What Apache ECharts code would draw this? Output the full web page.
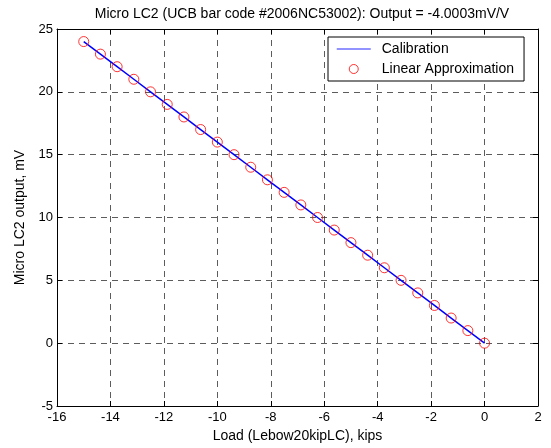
<!DOCTYPE html>
<html lang="en">
<head>
    <meta charset="UTF-8">
    <title>Micro LC2</title>
    <style>
        body { margin: 0; background: #fff; }
        .chart { width: 551px; height: 448px; }
    </style>
</head>
<body>
    <div class="chart"></div>
    <script src="https://cdn.jsdelivr.net/npm/echarts@6/dist/echarts.min.js"></script>
    <script>
        // load (kips) and micro LC2 output (mV)
        var loadKips = [0, -0.625, -1.25, -1.875, -2.5, -3.125, -3.75, -4.375, -5, -5.625, -6.25, -6.875,
            -7.5, -8.125, -8.75, -9.375, -10, -10.625, -11.25, -11.875, -12.5, -13.125, -13.75, -14.375, -15]
        var outputMv = [0, 1, 2, 3, 4, 5, 6, 7, 8, 9, 10, 11, 12, 13, 14, 15, 16, 17, 18, 19, 20, 21, 22, 23, 24]

        var xMin = -16, xMax = 2, xStep = 2
        var yMin = -5, yMax = 25, yStep = 5

        var pts = loadKips.map(function (x, i) { return [x, outputMv[i]] })
        var font = 'Liberation Sans, Arial, sans-serif'

        var chart = echarts.init(document.getElementsByClassName('chart')[0])
        var gridDash = { color: '#333', type: [6, 5], width: 1, opacity: 0.8 }

        var option = {
            animation: false,
            title: {
                text: 'Micro LC2 (UCB bar code #2006NC53002): Output = -4.0003mV/V',
                left: 297, top: 2, textAlign: 'center',
                textStyle: { fontFamily: font, fontSize: 14, fontWeight: 'normal', color: '#000' }
            },
            grid: { left: 57, right: 13, top: 29, bottom: 42, containLabel: false },
            legend: {
                orient: 'vertical',
                left: 328, top: 37, width: 199, height: 45,
                padding: [5, 10, 5, 8],
                itemGap: 6,
                itemWidth: 34, itemHeight: 9,
                backgroundColor: '#fff',
                borderColor: '#000', borderWidth: 1, borderRadius: 0,
                textStyle: { fontFamily: font, fontSize: 14, color: '#000', padding: [0, 0, 0, 6] },
                data: [
                    { name: 'Calibration', itemStyle: { opacity: 0 }, lineStyle: { color: '#6f6fff', width: 1.5 } },
                    { name: 'Linear Approximation', itemStyle: { color: 'rgba(255,255,255,0)', borderColor: '#ff0000', borderWidth: 1 } }
                ]
            },
            xAxis: [{
                type: 'value', min: xMin, max: xMax, interval: xStep,
                position: 'bottom',
                name: 'Load (Lebow20kipLC), kips', nameLocation: 'middle', nameGap: 23,
                nameTextStyle: { fontFamily: font, fontSize: 14, color: '#000' },
                axisLine: { onZero: false, lineStyle: { color: '#000', width: 1 } },
                axisTick: { inside: true, length: 5, lineStyle: { color: '#000' } },
                axisLabel: { fontFamily: font, fontSize: 13, color: '#000', margin: 5 },
                splitLine: { show: true, lineStyle: gridDash }
            }, {
                type: 'value', min: xMin, max: xMax, interval: xStep,
                position: 'top',
                axisLine: { onZero: false, lineStyle: { color: '#000', width: 1 } },
                axisTick: { inside: true, length: 5, lineStyle: { color: '#000' } },
                axisLabel: { show: false },
                splitLine: { show: false }
            }],
            yAxis: [{
                type: 'value', min: yMin, max: yMax, interval: yStep,
                position: 'left',
                name: 'Micro LC2 output, mV', nameLocation: 'middle', nameGap: 30, nameRotate: 90,
                nameTextStyle: { fontFamily: font, fontSize: 14, color: '#000' },
                axisLine: { onZero: false, lineStyle: { color: '#000', width: 1 } },
                axisTick: { inside: true, length: 5, lineStyle: { color: '#000' } },
                axisLabel: { fontFamily: font, fontSize: 13, color: '#000', margin: 4 },
                splitLine: { show: true, lineStyle: gridDash }
            }, {
                type: 'value', min: yMin, max: yMax, interval: yStep,
                position: 'right',
                axisLine: { onZero: false, lineStyle: { color: '#000', width: 1 } },
                axisTick: { inside: true, length: 5, lineStyle: { color: '#000' } },
                axisLabel: { show: false },
                splitLine: { show: false }
            }],
            series: [
                {
                    name: 'Calibration',
                    type: 'line',
                    data: pts,
                    showSymbol: false,
                    symbol: 'none',
                    lineStyle: { color: '#0000ff', width: 1.5 },
                    itemStyle: { color: '#0000ff' },
                    z: 3
                },
                {
                    name: 'Linear Approximation',
                    type: 'scatter',
                    data: pts,
                    symbol: 'circle',
                    symbolSize: 10,
                    itemStyle: { color: 'rgba(255,255,255,0)', borderColor: '#ff0000', borderWidth: 1 },
                    z: 4
                }
            ]
        }
        chart.setOption(option)
    </script>
</body>
</html>
